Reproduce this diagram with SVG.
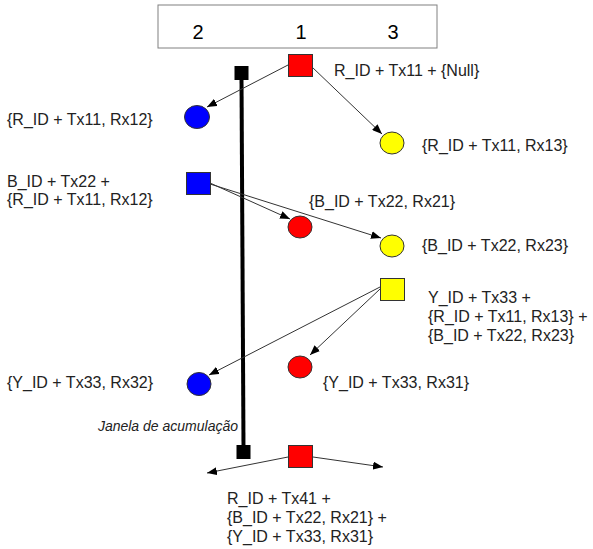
<svg xmlns="http://www.w3.org/2000/svg" width="593" height="549" viewBox="0 0 593 549">
<style>
text{font-family:"Liberation Sans",Arial,sans-serif;font-size:16px;fill:#222}
.num{font-size:20px;fill:#000}
.it{font-style:italic;font-size:14px}
.sh{stroke:#333;stroke-width:1}
.cn{stroke:#333;stroke-width:1;fill:none;marker-end:url(#ah)}
</style>
<defs>
<marker id="ah" markerUnits="userSpaceOnUse" markerWidth="10" markerHeight="8" refX="10" refY="4" orient="auto">
<path d="M0,0 L10,4 L0,8 Z" fill="#000"/>
</marker>
</defs>
<rect width="593" height="549" fill="#fff"/>
<g id="header">
<rect x="158" y="5" width="279" height="43" fill="#fff" stroke="#808080" stroke-width="1"/>
<text class="num" x="198" y="39" text-anchor="middle">2</text>
<text class="num" x="301" y="39" text-anchor="middle">1</text>
<text class="num" x="393" y="39" text-anchor="middle">3</text>
</g>
<g id="window">
<line x1="241.5" y1="78" x2="243.5" y2="447" stroke="#000" stroke-width="4"/>
<rect x="234.5" y="66" width="14" height="14" fill="#000"/>
<rect x="236.5" y="445" width="14" height="14" fill="#000"/>
<text class="it" x="238" y="431" text-anchor="end">Janela de acumulação</text>
</g>
<g id="connectors">
<line class="cn" x1="288" y1="65" x2="207" y2="107"/>
<line class="cn" x1="312" y1="67" x2="382" y2="134"/>
<line class="cn" x1="210" y1="183" x2="290" y2="219"/>
<line class="cn" x1="210" y1="184" x2="381" y2="238"/>
<line class="cn" x1="380" y1="287" x2="209" y2="375"/>
<line class="cn" x1="380" y1="289" x2="310" y2="355"/>
<line class="cn" x1="288" y1="457" x2="207" y2="473"/>
<line class="cn" x1="313" y1="457" x2="383" y2="467"/>
</g>
<g id="n-red1">
<rect class="sh" x="288.5" y="54.5" width="24" height="22" fill="#ff0000"/>
<text x="334" y="76">R_ID + Tx11 + {Null}</text>
</g>
<g id="n-blue1">
<ellipse class="sh" cx="197" cy="117" rx="12.5" ry="11.5" fill="#0000ff"/>
<text x="7" y="125">{R_ID + Tx11, Rx12}</text>
</g>
<g id="n-yellow1">
<ellipse class="sh" cx="392" cy="143" rx="12" ry="11" fill="#ffff00"/>
<text x="422" y="151">{R_ID + Tx11, Rx13}</text>
</g>
<g id="n-blue2">
<rect class="sh" x="186.5" y="172.5" width="24" height="22" fill="#0000ff"/>
<text x="7" y="187">B_ID + Tx22 +</text>
<text x="7" y="205">{R_ID + Tx11, Rx12}</text>
</g>
<g id="n-red2">
<ellipse class="sh" cx="300" cy="227" rx="12" ry="11" fill="#ff0000"/>
<text x="309" y="207">{B_ID + Tx22, Rx21}</text>
</g>
<g id="n-yellow2">
<ellipse class="sh" cx="392" cy="246" rx="12" ry="11" fill="#ffff00"/>
<text x="422" y="251">{B_ID + Tx22, Rx23}</text>
</g>
<g id="n-yellow3">
<rect class="sh" x="380.5" y="278.5" width="24" height="22" fill="#ffff00"/>
<text x="428" y="303">Y_ID + Tx33 +</text>
<text x="428" y="322">{R_ID + Tx11, Rx13} +</text>
<text x="428" y="341">{B_ID + Tx22, Rx23}</text>
</g>
<g id="n-red3">
<ellipse class="sh" cx="300" cy="367" rx="12" ry="11" fill="#ff0000"/>
<text x="323" y="388">{Y_ID + Tx33, Rx31}</text>
</g>
<g id="n-blue3">
<ellipse class="sh" cx="199" cy="384" rx="12" ry="11.5" fill="#0000ff"/>
<text x="7" y="388">{Y_ID + Tx33, Rx32}</text>
</g>
<g id="n-red4">
<rect class="sh" x="288.5" y="445.5" width="24" height="22" fill="#ff0000"/>
<text x="227" y="504">R_ID + Tx41 +</text>
<text x="227" y="523">{B_ID + Tx22, Rx21} +</text>
<text x="227" y="542">{Y_ID + Tx33, Rx31}</text>
</g>
</svg>
